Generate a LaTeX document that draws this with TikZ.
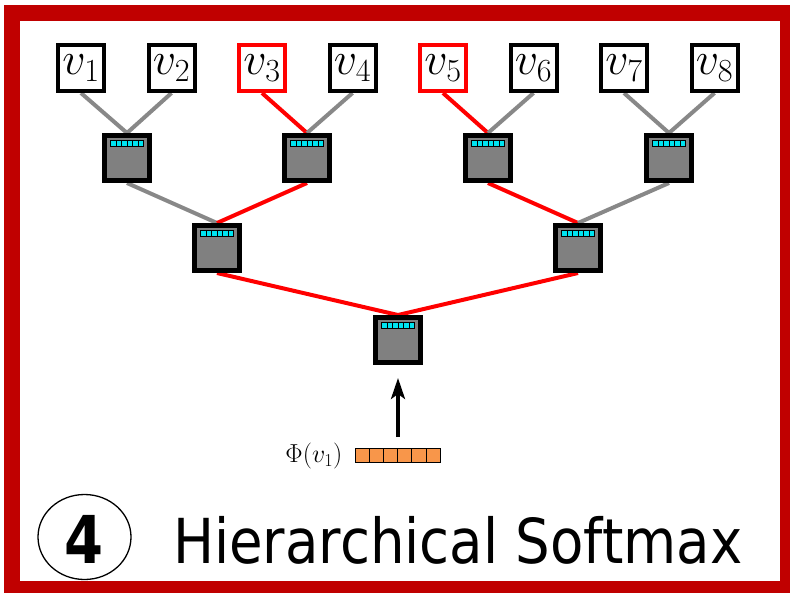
\RequirePackage{fix-cm}
\documentclass[tikz,border=0pt]{standalone}
\usepackage{fontspec}
\newfontfamily\titlefont[FakeStretch=0.88]{DejaVu Sans}
\newfontfamily\numfont[FakeStretch=0.85]{DejaVu Sans}
\usetikzlibrary{arrows.meta,backgrounds,shapes.geometric}
\definecolor{framered}{RGB}{192,0,0}
\definecolor{hgray}{RGB}{128,128,128}
\definecolor{egray}{RGB}{136,136,136}
\definecolor{cyanc}{RGB}{0,228,240}
\definecolor{vorange}{RGB}{248,150,74}
\definecolor{ered}{RGB}{255,0,0}
\begin{document}
\begin{tikzpicture}[x=1pt,y=-1pt,
  leaf/.style={draw=black, line width=4pt, fill=white, minimum size=46pt, inner sep=0pt, font=\fontsize{46}{46}\selectfont},
  leafr/.style={leaf, draw=ered},
  hid/.style={draw=black, line width=5pt, fill=hgray, minimum size=45pt, inner sep=0pt},
  gedge/.style={line width=4pt, draw=egray},
  redge/.style={line width=4pt, draw=ered},
  cell/.style={draw=black, line width=0.8pt, fill=vorange, minimum width=14.2pt, minimum height=14pt, inner sep=0pt},
  barcell/.style={draw=black, line width=0.6pt, fill=cyanc, minimum width=5.5pt, minimum height=6pt, inner sep=0pt}
]
\useasboundingbox (0,0) rectangle (790,592);
% frame
\draw[line width=16pt, draw=framered] (12,13) rectangle (788,589);

% leaves
\node[leaf]  (v1) at (81,68)    {$v_1$};
\node[leaf]  (v2) at (171.5,68) {$v_2$};
\node[leafr] (v3) at (262,68)   {$v_3$};
\node[leaf]  (v4) at (352.5,68) {$v_4$};
\node[leafr] (v5) at (443,68)   {$v_5$};
\node[leaf]  (v6) at (533.5,68) {$v_6$};
\node[leaf]  (v7) at (624,68)   {$v_7$};
\node[leaf]  (v8) at (714.5,68) {$v_8$};

% hidden nodes
\node[hid] (n1) at (127,158) {};
\node[hid] (n2) at (307,158) {};
\node[hid] (n3) at (488,158) {};
\node[hid] (n4) at (669,158) {};
\node[hid] (m1) at (217,248) {};
\node[hid] (m2) at (578,248) {};
\node[hid] (r)  at (398,340) {};

\foreach \h in {n1,n2,n3,n4,m1,m2,r}{
  \foreach \i in {0,...,5}{
    \pgfmathsetmacro\dx{-13.75+5.5*\i}
    \node[barcell] (\h-b\i) at ([xshift=\dx pt, yshift=15pt]\h.center) {};
  }
}

% edges
\begin{scope}[on background layer]
\draw[gedge] (v1.south) -- (n1.north);
\draw[gedge] (v2.south) -- (n1.north);
\draw[redge] (v3.south) -- (n2.north);
\draw[gedge] (v4.south) -- (n2.north);
\draw[redge] (v5.south) -- (n3.north);
\draw[gedge] (v6.south) -- (n3.north);
\draw[gedge] (v7.south) -- (n4.north);
\draw[gedge] (v8.south) -- (n4.north);
\draw[gedge] (n1.south) -- (m1.north);
\draw[redge] (n2.south) -- (m1.north);
\draw[redge] (n3.south) -- (m2.north);
\draw[gedge] (n4.south) -- (m2.north);
\draw[redge] (m1.south) -- (r.north);
\draw[redge] (m2.south) -- (r.north);
\end{scope}

% input vector
\foreach \i in {0,...,5}{
  \pgfmathsetmacro\cx{355+14.2*(\i+0.5)}
  \node[cell] (c\i) at (\cx,455) {};
}
\node[anchor=east, inner sep=0pt, font=\fontsize{26}{26}\selectfont] (phi) at ([xshift=-12pt,yshift=-1pt]c0.west) {$\Phi(v_1)$};
\coordinate (a0) at (398,437);
\draw[-{Stealth[length=21pt,width=14pt,inset=5pt]}, line width=3.5pt] (a0) -- ([yshift=-13pt]r.south);

% title
\node[draw=black, line width=1.3pt, ellipse, minimum width=93pt, minimum height=85pt, inner sep=0pt] (circ) at (84.5,537) {};
\node[anchor=base, inner sep=0pt, font=\numfont\bfseries\fontsize{66}{66}\selectfont] (four) at (84.5,563) {4};
\node[anchor=base west, inner sep=0pt, font=\titlefont\fontsize{62}{62}\selectfont] (title) at (173,563) {Hierarchical Softmax};
\end{tikzpicture}
\end{document}
